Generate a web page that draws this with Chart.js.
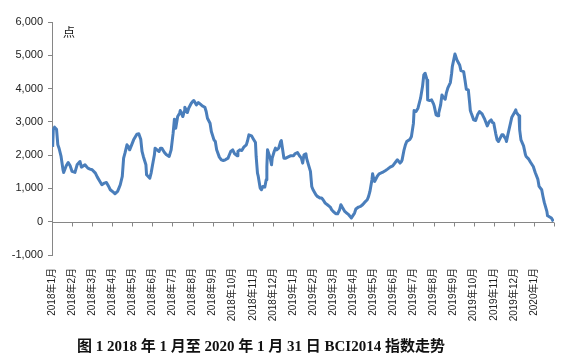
<!DOCTYPE html>
<html>
<head>
<meta charset="utf-8">
<script src="https://cdn.jsdelivr.net/npm/chart.js@4.4.0/dist/chart.umd.min.js"></script>
<style>
  html, body { margin: 0; padding: 0; background: #fff; }
  #wrap { position: relative; width: 571px; height: 360px; }
  #caption {
    position: absolute; left: 0; top: 334px; width: 522px;
    text-align: center; color: #111;
    font: bold 15px "Liberation Serif", "Noto Sans CJK SC", serif;
  }
</style>
</head>
<body>
<div id="wrap">
  <canvas id="bciChart" width="571" height="360"></canvas>
  <div id="caption">图 1 2018 年 1 月至 2020 年 1 月 31 日 BCI2014 指数走势</div>
</div>
<script>
// ---- data ----
const tickLabels = [
  '2018年1月', '2018年2月', '2018年3月', '2018年4月', '2018年5月', '2018年6月',
  '2018年7月', '2018年8月', '2018年9月', '2018年10月', '2018年11月', '2018年12月',
  '2019年1月', '2019年2月', '2019年3月', '2019年4月', '2019年5月', '2019年6月',
  '2019年7月', '2019年8月', '2019年9月', '2019年10月', '2019年11月', '2019年12月',
  '2020年1月'
];
const yTicks = [-1000, 0, 1000, 2000, 3000, 4000, 5000, 6000];

const dates = [
  '2018-01-02','2018-01-03','2018-01-05','2018-01-08','2018-01-10','2018-01-12','2018-01-15','2018-01-18',
  '2018-01-19','2018-01-23','2018-01-26','2018-01-29','2018-02-01','2018-02-05','2018-02-08','2018-02-12',
  '2018-02-14','2018-02-19','2018-02-21','2018-02-23','2018-02-26','2018-03-01','2018-03-06','2018-03-09',
  '2018-03-13','2018-03-16','2018-03-20','2018-03-23','2018-03-27','2018-03-29','2018-04-03','2018-04-05',
  '2018-04-09','2018-04-11','2018-04-13','2018-04-16','2018-04-18','2018-04-20','2018-04-23','2018-04-25',
  '2018-04-27','2018-04-30','2018-05-03','2018-05-08','2018-05-11','2018-05-14','2018-05-16','2018-05-18',
  '2018-05-22','2018-05-23','2018-05-28','2018-05-30','2018-06-01','2018-06-04','2018-06-05','2018-06-08',
  '2018-06-11','2018-06-13','2018-06-15','2018-06-19','2018-06-22','2018-06-26','2018-06-29','2018-07-02',
  '2018-07-04','2018-07-06','2018-07-09','2018-07-12','2018-07-13','2018-07-17','2018-07-19','2018-07-20',
  '2018-07-24','2018-07-26','2018-07-30','2018-08-01','2018-08-03','2018-08-07','2018-08-10','2018-08-13',
  '2018-08-16','2018-08-20','2018-08-22','2018-08-24','2018-08-28','2018-08-30','2018-09-03','2018-09-05',
  '2018-09-07','2018-09-11','2018-09-14','2018-09-17','2018-09-20','2018-09-24','2018-09-26','2018-09-28',
  '2018-10-01','2018-10-04','2018-10-08','2018-10-09','2018-10-12','2018-10-15','2018-10-18','2018-10-22',
  '2018-10-24','2018-10-26','2018-10-30','2018-11-02','2018-11-05','2018-11-06','2018-11-08','2018-11-09',
  '2018-11-12','2018-11-14','2018-11-16','2018-11-19','2018-11-21','2018-11-22','2018-11-23','2018-11-27',
  '2018-11-29','2018-11-30','2018-12-03','2018-12-05','2018-12-07','2018-12-10','2018-12-13','2018-12-14',
  '2018-12-18','2018-12-21','2018-12-24','2018-12-28',
  '2019-01-02','2019-01-04','2019-01-08','2019-01-11','2019-01-14','2019-01-16','2019-01-18','2019-01-21',
  '2019-01-22','2019-01-25','2019-01-28','2019-01-30','2019-02-01','2019-02-05','2019-02-07','2019-02-11',
  '2019-02-13','2019-02-15','2019-02-18','2019-02-21','2019-02-25','2019-02-27','2019-03-01','2019-03-05',
  '2019-03-08','2019-03-11','2019-03-13','2019-03-15','2019-03-19','2019-03-22','2019-03-25','2019-03-28',
  '2019-03-29','2019-04-03','2019-04-05','2019-04-09','2019-04-12','2019-04-15','2019-04-18','2019-04-22',
  '2019-04-24','2019-04-26','2019-04-29','2019-04-30','2019-05-02','2019-05-03','2019-05-07','2019-05-10',
  '2019-05-15','2019-05-20','2019-05-23','2019-05-27','2019-05-31','2019-06-05','2019-06-07','2019-06-11',
  '2019-06-13','2019-06-14','2019-06-17','2019-06-19','2019-06-21','2019-06-26','2019-06-28','2019-07-01',
  '2019-07-02','2019-07-05','2019-07-08','2019-07-10','2019-07-12','2019-07-15','2019-07-17','2019-07-19',
  '2019-07-22','2019-07-23','2019-07-26','2019-07-29','2019-08-01','2019-08-02','2019-08-05','2019-08-08',
  '2019-08-09','2019-08-12','2019-08-14','2019-08-16','2019-08-19','2019-08-21','2019-08-23','2019-08-27',
  '2019-08-29','2019-08-30','2019-09-03','2019-09-04','2019-09-06','2019-09-10','2019-09-12','2019-09-16',
  '2019-09-18','2019-09-20','2019-09-23','2019-09-25','2019-09-26','2019-09-27','2019-10-01','2019-10-04',
  '2019-10-07','2019-10-10','2019-10-14','2019-10-16','2019-10-18','2019-10-22','2019-10-25','2019-10-28',
  '2019-10-30','2019-11-01','2019-11-04','2019-11-06','2019-11-08','2019-11-13','2019-11-15','2019-11-19',
  '2019-11-20','2019-11-22','2019-11-26','2019-11-28','2019-12-02','2019-12-04','2019-12-05','2019-12-09',
  '2019-12-10','2019-12-12','2019-12-16','2019-12-19','2019-12-20','2019-12-24','2019-12-27','2019-12-31',
  '2020-01-03','2020-01-07','2020-01-09','2020-01-13','2020-01-15','2020-01-17','2020-01-21','2020-01-22',
  '2020-01-24','2020-01-28','2020-01-31'
];

const values = [
  2250, 2760, 2840, 2780, 2310, 2200, 1960, 1560,
  1480, 1680, 1780, 1680, 1510, 1480, 1710, 1810,
  1640, 1710, 1660, 1610, 1580, 1560, 1460, 1340,
  1210, 1110, 1160, 1180, 1040,  960,  880,  840,
   910, 1010, 1110, 1360, 1910, 2060, 2310, 2260,
  2160, 2310, 2460, 2630, 2640, 2480, 2110, 1960,
  1710, 1410, 1310, 1460, 1680, 2010, 2210, 2160,
  2110, 2210, 2210, 2080, 2010, 1960, 2160, 2660,
  3080, 2810, 3160, 3260, 3340, 3160, 3310, 3440,
  3280, 3410, 3560, 3610, 3640, 3510, 3580, 3530,
  3480, 3440, 3310, 3110, 2960, 2710, 2460, 2410,
  2160, 1940, 1860, 1840, 1860, 1910, 2010, 2110,
  2160, 2040, 1980, 2110, 2160, 2140, 2240, 2310,
  2440, 2610, 2580, 2480, 2380, 1960, 1460, 1380,
  1010,  960, 1060, 1040, 1260, 1660, 2160, 1910,
  1710, 1910, 2110, 2210, 2160, 2210, 2410, 2440,
  1910, 1910, 1940, 1980,
  1980, 2040, 2080, 1980, 1910, 1760, 2010, 2040,
  1910, 1710, 1510, 1060,  960,  810,  760,  710,
   710,  660,  560,  510,  440,  360,  310,  240,
   240,  360,  510,  440,  310,  260,  210,  140,
   110,  260,  380,  440,  460,  510,  580,  660,
   760,  910, 1260, 1440, 1260, 1210, 1360, 1440,
  1480, 1540, 1580, 1640, 1680, 1810, 1860, 1760,
  1810, 1850, 2160, 2310, 2410, 2480, 2560, 2960,
  3340, 3310, 3410, 3560, 3710, 4060, 4410, 4460,
  4260, 3660, 3640, 3660, 3540, 3480, 3210, 3180,
  3260, 3510, 3810, 3740, 3680, 3880, 4010, 4180,
  4460, 4660, 5040, 4980, 4860, 4710, 4540, 4510,
  4260, 3980, 3960, 3560, 3340, 3280, 3060, 3040,
  3210, 3310, 3240, 3160, 3080, 2880, 3010, 3060,
  2980, 2960, 2640, 2460, 2410, 2610, 2610, 2480,
  2410, 2610, 2960, 3140, 3280, 3360, 3280, 3180,
  2760, 2460, 2280, 2010, 1960, 1880, 1780, 1660,
  1480, 1280, 1060,  960,  760,  580,  310,  180,
   160,  110,   10
];

// date string -> fractional month index from 2018-01-01
function monthPos(s) {
  const [y, m, d] = s.split('-').map(Number);
  const dim = new Date(y, m, 0).getDate();
  return (y - 2018) * 12 + (m - 1) + (d - 1) / dim;
}
const points = dates.map((d, i) => ({ x: monthPos(d), y: values[i] }));

const AXIS_GREY = '#868686';
const labelFont = { family: "'Liberation Sans', 'Noto Sans CJK SC', sans-serif", size: 10 };

// horizontal axis sits at y = 0 (Excel style), labels stay at the bottom
const zeroAxis = {
  id: 'zeroAxis',
  beforeDatasetsDraw(chart) {
    const { ctx, chartArea, scales: { x, y } } = chart;
    const y0 = Math.round(y.getPixelForValue(0)) + 0.5;
    ctx.save();
    ctx.strokeStyle = AXIS_GREY;
    ctx.lineWidth = 1;
    ctx.beginPath();
    ctx.moveTo(chartArea.left, y0);
    ctx.lineTo(chartArea.right, y0);
    for (let i = 0; i <= tickLabels.length; i++) {
      const px = Math.round(x.getPixelForValue(i)) + 0.5;
      ctx.moveTo(px, y0);
      ctx.lineTo(px, y0 + 4);
    }
    ctx.stroke();
    ctx.restore();
  },
  afterDraw(chart) {
    const { ctx, chartArea } = chart;
    ctx.save();
    ctx.fillStyle = '#111';
    ctx.font = "12px 'Noto Sans CJK SC'";
    ctx.textBaseline = 'middle';
    ctx.fillText('点', chartArea.left + 11, chartArea.top + 10);
    ctx.restore();
  }
};

new Chart(document.getElementById('bciChart'), {
  type: 'line',
  data: {
    datasets: [{
      label: 'BCI2014',
      data: points,
      borderColor: '#4a7ebb',
      borderWidth: 3,
      borderJoinStyle: 'round',
      pointRadius: 0,
      tension: 0,
      fill: false
    }]
  },
  options: {
    responsive: false,
    animation: false,
    layout: { padding: { top: 22, right: 8, left: 0, bottom: 0 } },
    plugins: {
      legend: { display: false },
      tooltip: { enabled: false }
    },
    scales: {
      x: {
        type: 'linear',
        min: 0,
        max: tickLabels.length,
        afterFit: (s) => { s.height = 105; },
        border: { display: false },
        grid: { display: false },
        ticks: {
          stepSize: 1,
          autoSkip: false,
          minRotation: 90,
          maxRotation: 90,
          padding: 5,
          color: '#222',
          font: labelFont,
          callback: (v) => tickLabels[v] ?? ''
        }
      },
      y: {
        min: yTicks[0],
        max: yTicks[yTicks.length - 1],
        afterFit: (s) => { s.width = 52; },
        afterBuildTicks: (s) => { s.ticks = yTicks.map(v => ({ value: v })); },
        border: { display: true, color: AXIS_GREY, width: 1 },
        grid: { display: true, drawOnChartArea: false, tickLength: 4, color: AXIS_GREY },
        ticks: {
          padding: 5,
          color: '#222',
          font: { family: "'Liberation Sans', sans-serif", size: 11 },
          callback: (v) => v.toLocaleString('en-US')
        }
      }
    }
  },
  plugins: [zeroAxis]
});
</script>
</body>
</html>
